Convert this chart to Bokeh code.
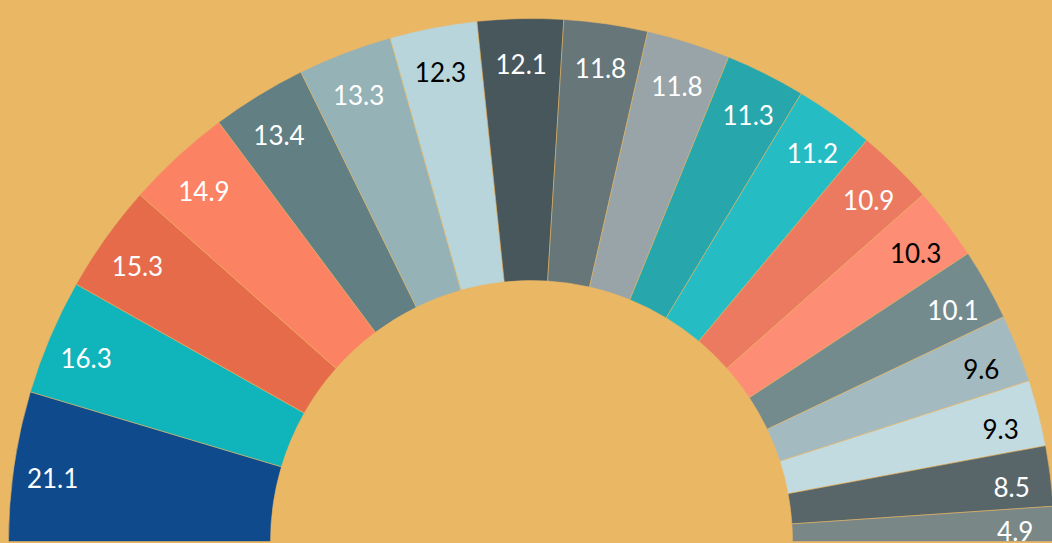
import math
from bokeh.plotting import figure
from bokeh.models import ColumnDataSource
from bokeh.core.properties import value
from bokeh.embed import file_html
from bokeh.resources import INLINE

# ---- data ----
values = [21.1, 16.3, 15.3, 14.9, 13.4, 13.3, 12.3, 12.1, 11.8, 11.8,
          11.3, 11.2, 10.9, 10.3, 10.1, 9.6, 9.3, 8.5, 4.9]
labels = ["21.1", "16.3", "15.3", "14.9", "13.4", "13.3", "12.3", "12.1", "11.8", "11.8",
          "11.3", "11.2", "10.9", "10.3", "10.1", "9.6", "9.3", "8.5", "4.9"]
colors = ["#0F4A8C", "#10B4BB", "#E56B4B", "#FB8263", "#627F84", "#95B2B7", "#B7D5DB",
          "#48575C", "#667679", "#98A4A8", "#27A7AC", "#26BCC3", "#EB7A61", "#FD8D74",
          "#748B8E", "#A3BBC0", "#C2DBE1", "#58666A", "#7A8787"]
label_colors = ["white", "white", "white", "white", "white", "white", "black",
                "white", "white", "white", "white", "white", "white", "black",
                "white", "black", "black", "white", "white"]

BG = "#EAB764"
W, H = 1052, 543
CX, CY = 531, 2
R_IN, R_OUT, R_LAB = 261, 523, 484
LAB_DY = -6

total = sum(values)
starts, ends, lx, ly = [], [], [], []
cum = 0.0
for v in values:
    a_hi = math.pi - cum / total * math.pi
    cum += v
    a_lo = math.pi - cum / total * math.pi
    starts.append(a_lo)
    ends.append(a_hi)
    mid = (a_lo + a_hi) / 2
    lx.append(CX + R_LAB * math.cos(mid))
    ly.append(CY + R_LAB * math.sin(mid) + LAB_DY)

src = ColumnDataSource(dict(start=starts, end=ends, color=colors, x=lx, y=ly,
                            label=labels, lcolor=label_colors,
                            cx=[CX] * len(values), cy=[CY] * len(values)))

p = figure(width=W, height=H, x_range=(0, W), y_range=(0, H),
           output_backend="svg", toolbar_location=None, min_border=0)
p.axis.visible = False
p.grid.visible = False
p.outline_line_color = None
p.background_fill_color = BG
p.border_fill_color = BG

p.annular_wedge(x="cx", y="cy", inner_radius=R_IN, outer_radius=R_OUT,
                start_angle="start", end_angle="end", fill_color="color",
                line_color=BG, line_width=0.7, line_alpha=0.8, source=src)

p.text(x="x", y="y", text="label", text_color="lcolor", source=src,
       text_font=value("Lato"), text_font_size="26px",
       text_align="center", text_baseline="middle")

tpl = """{% block postamble %}<style>html, body { margin: 0 !important; padding: 0; background: #EAB764; overflow: hidden; }</style>{% endblock %}"""
open("out.html", "w").write(file_html(p, INLINE, template=tpl))
